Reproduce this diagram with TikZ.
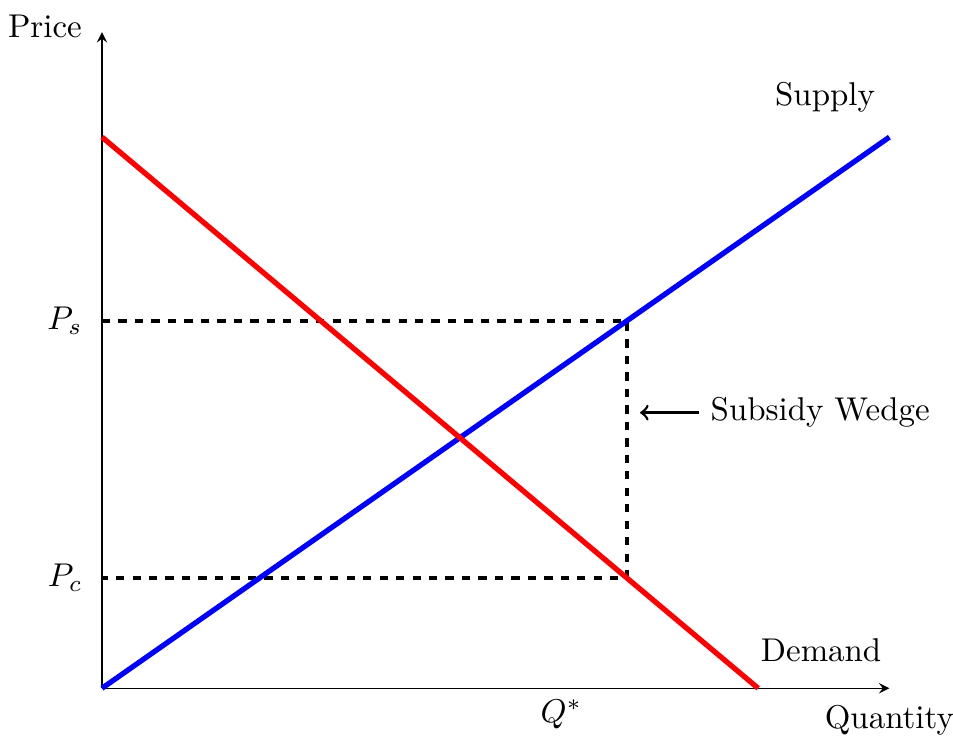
\documentclass[tikz,border=0pt]{standalone}
\usepackage{amsmath, amssymb}
\usepackage{xcolor}
\usepackage{tikz}
\usetikzlibrary{calc, positioning}

\begin{document}
\begin{tikzpicture}[scale=0.7,
    curve/.style={ultra thick},
    guide/.style={very thick, dash pattern=on 2.5pt off 2.5pt}]
    \useasboundingbox (-1.555,-0.73) rectangle (12.97,10.49);

    % Trục tọa độ
    \coordinate (O) at (0,0);
    \coordinate (xend) at (12,0);
    \coordinate (yend) at (0,10);
    \draw[-stealth] (O) -- (xend);
    \draw[-stealth] (O) -- (yend);
    \node (qlab) at (12,-0.49) {Quantity};
    \node (plab) at (-0.87,10.08) {Price};

    % Các mức giá và lượng
    \coordinate (Ps) at (0,5.6);
    \coordinate (Pc) at (0,1.68);
    \coordinate (S) at (8,5.6);
    \coordinate (D) at (8,1.68);
    \draw[guide] (Ps) -- (S) -- (D) -- (Pc);
    \node[left] (pslab) at ($(Ps)+(-0.12,0)$) {$P_s$};
    \node[left] (pclab) at ($(Pc)+(-0.12,0)$) {$P_c$};
    \node[below] (qstar) at (7,0) {$Q^*$};

    % Cung và cầu
    \coordinate (s1) at (12,8.4);
    \coordinate (d0) at (0,8.4);
    \coordinate (d1) at (10,0);
    \draw[curve, blue] (O) -- (s1);
    \draw[curve, red] (d0) -- (d1);
    \node (supply) at (11.02,9.0) {Supply};
    \node (demand) at (10.96,0.58) {Demand};

    % Nêm trợ cấp
    \node[right] (wedge) at (9.1,4.2) {Subsidy Wedge};
    \coordinate (wtip) at (8.2,4.2);
    \draw[thick, ->] (wedge.west) -- (wtip);
\end{tikzpicture}
\end{document}
